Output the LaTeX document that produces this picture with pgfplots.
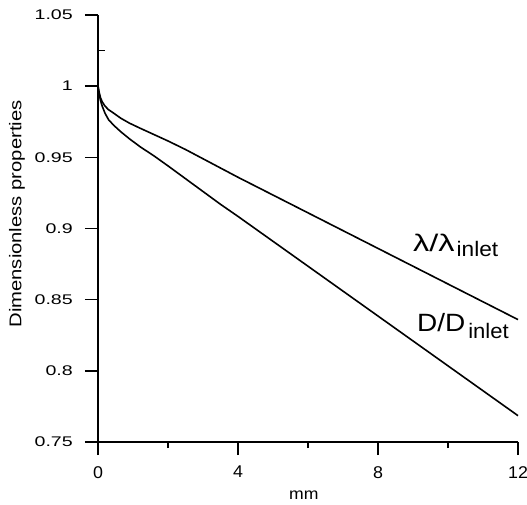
\documentclass[border=0pt]{standalone}
\usepackage{graphicx}
\usepackage{fontspec}
\setmainfont{Liberation Sans}
\usepackage{pgfplots}
\pgfplotsset{compat=1.18}
\newcommand{\sx}[2][1.2]{\scalebox{#1}[1]{#2}}
\begin{document}
\begin{tikzpicture}
\useasboundingbox (-98pt,-62pt) rectangle (429pt,442pt);
\begin{axis}[
  at={(0pt,0pt)}, anchor=south west,
  scale only axis, width=420pt, height=427pt,
  xmin=0, xmax=12, ymin=0.75, ymax=1.05,
  axis lines*=left,
  axis line style={line width=1.4pt},
  tick style={line width=1.4pt, black},
  tick align=outside,
  major tick length=13pt,
  minor tick length=6pt,
  xtick={0,4,8,12},
  minor xtick={2,6,10},
  ytick={0.75,0.8,0.85,0.9,0.95,1,1.05},
  extra y ticks={1.025},
  extra y tick labels={},
  extra y tick style={tick align=inside, major tick length=7pt},
  /pgf/number format/assume math mode=true,
  yticklabel={\sx[1.4]{\fontsize{14}{16}\selectfont\pgfmathprintnumber{\tick}}},
  xticklabel={\sx[1.05]{\fontsize{17}{20}\selectfont\pgfmathprintnumber{\tick}}},
  yticklabel style={anchor=east, inner sep=0pt, xshift=-12pt},
  xticklabel style={anchor=north, inner sep=0pt, yshift=-11pt},
  xlabel={\sx[1.1]{\fontsize{16}{19}\selectfont mm}},
  xlabel style={at={(axis description cs:0.49,-0.124)}, anchor=center, inner sep=0pt},
  ylabel={\sx[1.19]{\fontsize{17}{20}\selectfont Dimensionless properties}},
  ylabel style={at={(axis description cs:-0.193,0.534)}, anchor=center},
  clip=false,
]
\addplot[black, line width=1.6pt] coordinates {
(0,1.000) (0.03,0.996) (0.07,0.992) (0.12,0.989) (0.2,0.986) (0.3,0.9835)
(0.45,0.981) (0.65,0.9775) (0.9,0.974) (1.2,0.9705) (1.6,0.966) (2.0,0.9615)
(2.5,0.9555) (3.0,0.949) (3.5,0.9425) (4.0,0.936) (5,0.9235) (6,0.911)
(7,0.8985) (8,0.886) (9,0.8735) (10,0.861) (11,0.8485) (12,0.836)
};
\addplot[black, line width=1.6pt] coordinates {
(0,1.000) (0.03,0.995) (0.07,0.990) (0.12,0.986) (0.2,0.981) (0.3,0.9765)
(0.45,0.9725) (0.65,0.968) (0.9,0.963) (1.2,0.9575) (1.6,0.951) (2.0,0.944)
(2.5,0.935) (3.0,0.926) (3.5,0.917) (4.0,0.9085) (5,0.891) (6,0.8735)
(7,0.856) (8,0.8385) (9,0.821) (10,0.8035) (11,0.786) (12,0.7685)
};
\node[anchor=base west, inner sep=0pt] at (axis cs:9.0,0.8838)
  {\sx[1.35]{\fontsize{24}{28}\selectfont λ/λ}\hspace{2pt}\sx[1.08]{\raisebox{-4.5pt}{\fontsize{21}{24}\selectfont inlet}}};
\node[anchor=base west, inner sep=0pt] at (axis cs:9.11,0.8277)
  {\sx[1.12]{\fontsize{25}{28}\selectfont D/D}\hspace{3pt}\sx[1.05]{\raisebox{-7pt}{\fontsize{21}{24}\selectfont inlet}}};
\end{axis}
\end{tikzpicture}
\end{document}
